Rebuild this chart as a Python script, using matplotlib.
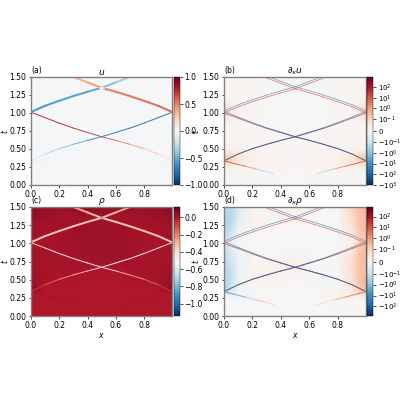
import numpy as np
import matplotlib
matplotlib.use("Agg")
import matplotlib.pyplot as plt
from matplotlib.collections import LineCollection
from matplotlib.colors import Normalize, SymLogNorm

plt.rcParams.update({"font.size": 5.5, "axes.linewidth": 1.0, "xtick.major.size": 1.8, "ytick.major.size": 1.8,
                     "xtick.major.width": 0.5, "ytick.major.width": 0.5, "xtick.major.pad": 1.5, "ytick.major.pad": 1.5,
                     "mathtext.default": "it"})

# ---- shock paths: x knots and t knots
path_x = [0.0, 0.1, 0.2, 0.3, 0.4, 0.5, 0.6, 0.7, 0.8, 0.9, 0.998]
rise_low_t = [0.335, 0.43, 0.505, 0.565, 0.62, 0.67, 0.73, 0.79, 0.86, 0.935, 1.01]
fall_low_t = [1.01, 0.935, 0.86, 0.79, 0.73, 0.67, 0.62, 0.565, 0.505, 0.43, 0.335]
high_x = [0.0, 0.1, 0.2, 0.3, 0.4, 0.5, 0.6, 0.7]
rise_high_t = [1.015, 1.10, 1.17, 1.235, 1.295, 1.35, 1.425, 1.50]
fall_x = [0.998, 0.9, 0.8, 0.7, 0.6, 0.5, 0.4, 0.3]
fall_high_t = [1.015, 1.10, 1.17, 1.235, 1.295, 1.35, 1.425, 1.50]
faint_left_x = [0.0, 0.08, 0.15, 0.22, 0.28, 0.35]
faint_left_t = [0.335, 0.295, 0.26, 0.225, 0.195, 0.155]
faint_right_x = [0.998, 0.92, 0.85, 0.78, 0.72, 0.65]
faint_right_t = [0.335, 0.295, 0.26, 0.225, 0.195, 0.155]
cross_x = [0.485, 0.515]
cross_t = [1.35, 1.35]

# half-gap between the red and blue edges of each low shock
rise_low_gap = [0.002, 0.002, 0.002, 0.002, 0.002, 0.002, 0.003, 0.004, 0.006, 0.008, 0.012]
fall_low_gap = [0.012, 0.008, 0.006, 0.004, 0.003, 0.002, 0.002, 0.002, 0.002, 0.002, 0.002]

# ---- values carried along the shocks
u_rise_low = [-0.1, -0.2, -0.35, -0.45, -0.55, -0.72, -0.75, -0.77, -0.78, -0.78, -0.78]
u_fall_low = [0.78, 0.78, 0.77, 0.75, 0.72, 0.65, 0.55, 0.45, 0.35, 0.2, 0.08]
u_rise_high = [-0.6, -0.58, -0.55, -0.55, -0.55, -0.5, -0.36, -0.32]
u_fall_high = [0.58, 0.56, 0.55, 0.54, 0.52, 0.48, 0.38, 0.36]
u_faint = [0.08, 0.07, 0.05, 0.04, 0.03, 0.02]
u_cross = [-0.05, -0.05]

rho_rise_low = [-0.03, -0.12, -0.2, -0.28, -0.35, -0.45, -0.48, -0.5, -0.48, -0.42, -0.36]
rho_rise_high = [-0.36, -0.36, -0.36, -0.36, -0.36, -0.36, -0.3, -0.28]
rho_fall_low = [-0.36, -0.42, -0.48, -0.5, -0.48, -0.45, -0.35, -0.28, -0.2, -0.12, -0.03]
rho_fall_high = [-0.36, -0.36, -0.36, -0.36, -0.36, -0.36, -0.3, -0.28]
rho_faint = [0.025, 0.025, 0.025, 0.02, 0.02, 0.015]
rho_cross = [-0.8, -0.8]

pair_red = [4, 4, 4, 4, 4, 4, 4, 4]
pair_blue = [-4, -4, -4, -4, -4, -4, -4, -4]
low_red_rise = [10, 15, 20, 25, 25, 25, 20, 15, 12, 10, 8]
low_blue_rise = [-40, -60, -80, -100, -100, -100, -80, -30, -15, -10, -8]
low_red_fall = low_red_rise[::-1]
low_blue_fall = low_blue_rise[::-1]
dux_faint_left = [6, 5, 2, -0.4, -0.15, -0.05]
dux_faint_right = [6, 5, 2, -0.4, -0.15, -0.05]
drx_faint_left = [-6, -2, -0.6, 0.3, 0.15, 0.05]
drx_faint_right = [4, 2, 0.6, 0.25, -0.1, -0.05]

# ---- smooth background read on a coarse grid
grid_x = [0.0, 0.05, 0.1, 0.2, 0.35, 0.5, 0.65, 0.8, 0.9, 0.95, 0.998]
grid_t = [0.0, 0.15, 0.25, 0.33, 0.36, 0.5, 0.67, 0.85, 1.0, 1.03, 1.2, 1.35, 1.5]

u_bg = [[-0.012] * 11 for _ in grid_t]

rho_bg = [
    [0.00, 0.00, 0.00, 0.00, 0.00, 0.00, 0.00, 0.00, 0.00, 0.00, 0.00],
    [0.00, 0.00, 0.00, 0.00, 0.00, 0.00, 0.00, 0.00, 0.00, 0.00, 0.00],
    [0.00, 0.00, 0.00, 0.00, 0.00, 0.00, 0.00, 0.00, 0.00, 0.00, 0.00],
    [0.00, 0.00, 0.00, 0.00, 0.00, 0.00, 0.00, 0.00, 0.00, 0.00, 0.00],
    [0.05, 0.025, 0.00, 0.00, 0.00, 0.00, 0.00, 0.00, 0.00, 0.025, 0.05],
    [0.035, 0.02, 0.015, 0.005, 0.00, 0.00, 0.00, 0.005, 0.015, 0.02, 0.035],
    [0.02, 0.015, 0.015, 0.012, 0.01, 0.01, 0.01, 0.012, 0.015, 0.015, 0.02],
    [0.015, 0.012, 0.012, 0.01, 0.025, 0.03, 0.025, 0.01, 0.012, 0.012, 0.015],
    [0.015, 0.01, 0.01, 0.015, 0.025, 0.03, 0.025, 0.015, 0.01, 0.01, 0.015],
    [0.015, 0.015, 0.012, 0.015, 0.025, 0.03, 0.025, 0.015, 0.012, 0.015, 0.015],
    [0.03, 0.02, 0.015, 0.015, 0.03, 0.03, 0.03, 0.015, 0.015, 0.02, 0.03],
    [0.045, 0.03, 0.03, 0.02, 0.015, 0.015, 0.015, 0.02, 0.03, 0.03, 0.045],
    [0.06, 0.05, 0.04, 0.03, 0.05, 0.06, 0.05, 0.03, 0.04, 0.05, 0.06],
]

dux_bg = [
    [0.003, 0.003, 0.003, 0.003, 0.003, 0.003, 0.003, 0.003, 0.003, 0.003, 0.003],
    [0.005, 0.005, 0.005, 0.005, 0.003, 0.0, 0.003, 0.005, 0.005, 0.005, 0.005],
    [0.02, 0.02, 0.015, 0.01, 0.005, 0.003, 0.005, 0.01, 0.015, 0.02, 0.02],
    [0.12, 0.07, 0.04, 0.015, 0.005, 0.003, 0.005, 0.015, 0.04, 0.07, 0.12],
    [0.25, 0.12, 0.05, 0.015, 0.006, 0.004, 0.006, 0.015, 0.05, 0.12, 0.25],
    [0.01, 0.015, 0.015, 0.01, 0.006, 0.004, 0.006, 0.01, 0.015, 0.015, 0.01],
    [0.005, 0.005, 0.005, 0.005, 0.005, 0.005, 0.005, 0.005, 0.005, 0.005, 0.005],
    [0.01, 0.008, 0.004, 0.002, 0.0, 0.0, 0.0, 0.002, 0.004, 0.008, 0.01],
    [0.08, 0.03, 0.01, 0.002, -0.004, -0.004, -0.004, 0.002, 0.01, 0.03, 0.08],
    [0.1, 0.04, 0.012, 0.002, -0.004, -0.004, -0.004, 0.002, 0.012, 0.04, 0.1],
    [0.008, 0.006, 0.004, 0.002, 0.0, 0.0, 0.0, 0.002, 0.004, 0.006, 0.008],
    [0.005, 0.005, 0.005, 0.004, 0.002, 0.002, 0.002, 0.004, 0.005, 0.005, 0.005],
    [0.005, 0.005, 0.005, 0.005, 0.005, 0.002, 0.005, 0.005, 0.005, 0.005, 0.005],
]

drx_bg = [
    [-0.005, -0.005, -0.005, -0.005, 0.0, 0.0, 0.0, 0.005, 0.005, 0.005, 0.005],
    [-0.005, -0.005, -0.005, -0.005, 0.0, 0.0, 0.0, 0.005, 0.005, 0.005, 0.005],
    [-0.01, -0.01, -0.01, -0.005, 0.0, 0.0, 0.0, 0.01, 0.012, 0.02, 0.025],
    [-0.08, -0.04, -0.015, -0.005, 0.0, 0.0, 0.0, 0.015, 0.04, 0.08, 0.15],
    [-0.3, -0.08, -0.02, 0.01, 0.005, 0.0, -0.005, 0.0, 0.04, 0.15, 0.35],
    [-0.25, -0.12, -0.025, 0.015, 0.012, 0.0, -0.012, -0.01, 0.06, 0.2, 0.35],
    [-0.2, -0.1, -0.025, 0.01, 0.02, 0.03, 0.0, -0.01, 0.08, 0.2, 0.3],
    [-0.15, -0.07, -0.02, 0.01, 0.005, 0.01, -0.005, 0.0, 0.06, 0.2, 0.3],
    [-0.1, -0.04, -0.01, 0.0, 0.0, 0.0, 0.0, 0.0, 0.02, 0.12, 0.25],
    [-0.12, -0.05, -0.01, 0.0, 0.0, 0.0, 0.0, 0.0, 0.02, 0.1, 0.2],
    [-0.25, -0.12, -0.025, 0.01, 0.0, 0.0, 0.0, -0.01, 0.06, 0.18, 0.25],
    [-0.25, -0.18, -0.05, 0.015, 0.012, 0.02, 0.0, 0.0, 0.08, 0.22, 0.3],
    [-0.25, -0.18, -0.07, 0.01, 0.012, 0.02, 0.005, 0.0, 0.12, 0.25, 0.3],
]

# ---- tick labels
x_ticks = [0.0, 0.2, 0.4, 0.6, 0.8]
t_ticks = [0.0, 0.25, 0.5, 0.75, 1.0, 1.25, 1.5]
u_cticks = [-1.0, -0.5, 0.0, 0.5, 1.0]
rho_cticks = [-1.0, -0.8, -0.6, -0.4, -0.2, 0.0]
dux_cticks = [-1e3, -1e2, -1e1, -1, -0.1, 0, 0.1, 1, 1e1, 1e2]
dux_clabels = ["$\\mathdefault{-10^{3}}$", "$\\mathdefault{-10^{2}}$", "$\\mathdefault{-10^{1}}$", "$\\mathdefault{-10^{0}}$",
               "$\\mathdefault{-10^{-1}}$", "$\\mathdefault{0}$", "$\\mathdefault{10^{-1}}$", "$\\mathdefault{10^{0}}$",
               "$\\mathdefault{10^{1}}$", "$\\mathdefault{10^{2}}$"]
drx_cticks = dux_cticks[1:]
drx_clabels = dux_clabels[1:]

GREY = "#808080"
CMAP = "RdBu_r"

fig = plt.figure(figsize=(4, 4), dpi=100)


def px_axes(l, r, top, bottom):
    return fig.add_axes([l / 400, 1 - bottom / 400, (r - l) / 400, (bottom - top) / 400])


def shock(ax, xs, ts, vals, norm, lw, dt=0.0):
    xs = np.asarray(xs, float)
    ts = np.asarray(ts, float) + np.asarray(dt, float)
    vals = np.asarray(vals, float)
    pts = np.column_stack([xs, ts])
    segs = np.stack([pts[:-1], pts[1:]], axis=1)
    lc = LineCollection(segs, cmap=CMAP, norm=norm, linewidths=lw, capstyle="round", alpha=0.95)
    lc.set_array(0.5 * (vals[:-1] + vals[1:]))
    ax.add_collection(lc)


def panel(box, cbox, bg, norm, title, label, ylabel_x, xlabel=False, clabel=5.5):
    ax = px_axes(*box)
    cax = px_axes(*cbox)
    mesh = ax.pcolormesh(grid_x, grid_t, np.array(bg), cmap=CMAP, norm=norm, shading="gouraud")
    ax.set_xlim(0, 0.998)
    ax.set_ylim(0, 1.5)
    ax.set_xticks(x_ticks)
    ax.set_yticks(t_ticks)
    ax.set_yticklabels(["0.00", "0.25", "0.50", "0.75", "1.00", "1.25", "1.50"])
    for s in ax.spines.values():
        s.set_color(GREY)
        s.set_zorder(5)
    ax.set_title(title, fontsize=6.5, pad=1.5)
    ax.text(0.0, 1.015, label, transform=ax.transAxes, fontsize=5.5, ha="left", va="bottom")
    ax.set_ylabel("$t$", fontsize=5.5)
    ax.yaxis.set_label_coords(ylabel_x, 0.5)
    if xlabel:
        ax.set_xlabel("$x$", fontsize=5.5, labelpad=1)
    cb = fig.colorbar(mesh, cax=cax)
    cb.outline.set_linewidth(0.3)
    cb.ax.minorticks_off()
    cb.ax.tick_params(pad=1.5, labelsize=clabel)
    return ax, cb


def network(ax, norm):
    shock(ax, path_x, rise_low_t, low_red_rise, norm, 0.55, -np.array(rise_low_gap))
    shock(ax, path_x, rise_low_t, low_blue_rise, norm, 0.55, rise_low_gap)
    shock(ax, path_x, fall_low_t, low_red_fall, norm, 0.55, -np.array(fall_low_gap))
    shock(ax, path_x, fall_low_t, low_blue_fall, norm, 0.55, fall_low_gap)
    shock(ax, high_x, rise_high_t, pair_red, norm, 0.55, -0.014)
    shock(ax, high_x, rise_high_t, pair_blue, norm, 0.55, 0.014)
    shock(ax, fall_x, fall_high_t, pair_red, norm, 0.55, -0.014)
    shock(ax, fall_x, fall_high_t, pair_blue, norm, 0.55, 0.014)


# (a)
norm_u = Normalize(-1, 1)
ax, cb = panel((31, 172, 77, 185), (173.5, 180, 77, 185), u_bg, norm_u, "$u$", "(a)", -0.15)
cb.set_ticks(u_cticks)
shock(ax, path_x, rise_low_t, u_rise_low, norm_u, 0.7)
shock(ax, path_x, fall_low_t, u_fall_low, norm_u, 0.7)
shock(ax, high_x, rise_high_t, u_rise_high, norm_u, 1.5)
shock(ax, fall_x, fall_high_t, u_fall_high, norm_u, 1.5)
shock(ax, faint_left_x, faint_left_t, u_faint, norm_u, 0.6)
shock(ax, faint_right_x, faint_right_t, u_faint, norm_u, 0.6)
shock(ax, cross_x, cross_t, u_cross, norm_u, 1.5)

# (b)
norm_dux = SymLogNorm(linthresh=0.1, linscale=1.0, vmin=-1050, vmax=900, base=10)
ax, cb = panel((224, 366, 77, 185), (367, 373, 77, 185), dux_bg, norm_dux, "$\\partial_x u$", "(b)", -0.165, clabel=5.0)
cb.set_ticks(dux_cticks, labels=dux_clabels)
network(ax, norm_dux)
shock(ax, faint_left_x, faint_left_t, dux_faint_left, norm_dux, 0.8)
shock(ax, faint_right_x, faint_right_t, dux_faint_right, norm_dux, 0.8)

# (c)
norm_rho = Normalize(-1.144, 0.12)
ax, cb = panel((31, 172, 207, 316), (173.5, 180, 207, 316), rho_bg, norm_rho, "$\\rho$", "(c)", -0.15, xlabel=True)
cb.set_ticks(rho_cticks)
shock(ax, path_x, rise_low_t, rho_rise_low, norm_rho, 0.7)
shock(ax, path_x, fall_low_t, rho_fall_low, norm_rho, 0.7)
shock(ax, high_x, rise_high_t, rho_rise_high, norm_rho, 1.4)
shock(ax, fall_x, fall_high_t, rho_fall_high, norm_rho, 1.4)
shock(ax, faint_left_x, faint_left_t, rho_faint, norm_rho, 0.5)
shock(ax, faint_right_x, faint_right_t, rho_faint, norm_rho, 0.5)
shock(ax, cross_x, cross_t, rho_cross, norm_rho, 1.2)

# (d)
norm_drx = SymLogNorm(linthresh=0.1, linscale=1.0, vmin=-750, vmax=750, base=10)
ax, cb = panel((224, 366, 207, 316), (367, 373, 207, 316), drx_bg, norm_drx, "$\\partial_x \\rho$", "(d)", -0.165, xlabel=True, clabel=5.0)
cb.set_ticks(drx_cticks, labels=drx_clabels)
network(ax, norm_drx)
shock(ax, faint_left_x, faint_left_t, drx_faint_left, norm_drx, 0.8)
shock(ax, faint_right_x, faint_right_t, drx_faint_right, norm_drx, 0.8)

fig.savefig("out.png", dpi=100)
